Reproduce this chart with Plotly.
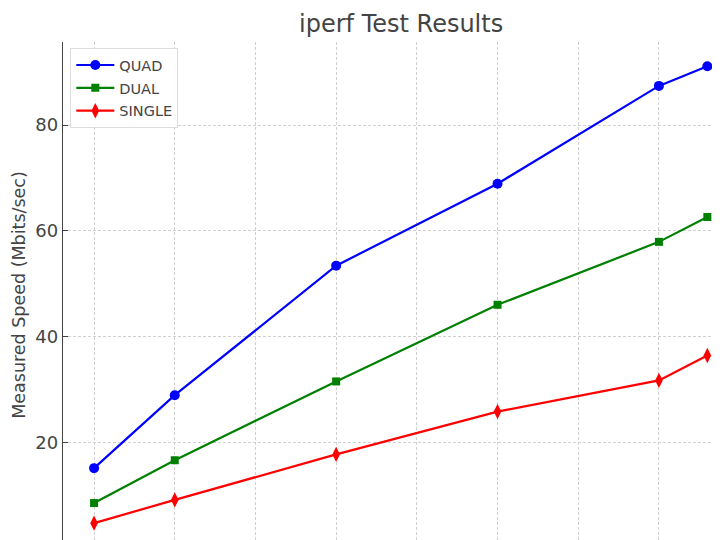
import plotly.graph_objects as go

x_vals = [1, 2, 4, 6, 8, 8.6]
quad = [15.1, 28.9, 53.4, 68.9, 87.4, 91.1]
dual = [8.5, 16.6, 31.5, 46.0, 57.9, 62.6]
single = [4.7, 9.1, 17.7, 25.8, 31.7, 36.4]
y_ticks = [20, 40, 60, 80]

fig = go.Figure()
fig.add_trace(go.Scatter(x=x_vals, y=quad, name="QUAD", mode="lines+markers",
                         legendgroup="a",
                         line=dict(color="blue", width=2.2),
                         marker=dict(symbol="circle", size=10, color="blue")))
fig.add_trace(go.Scatter(x=x_vals, y=dual, name="DUAL", mode="lines+markers",
                         legendgroup="b",
                         line=dict(color="green", width=2.2),
                         marker=dict(symbol="square", size=8, color="green")))
fig.add_trace(go.Scatter(x=x_vals, y=single, name="SINGLE", mode="lines+markers",
                         legendgroup="c",
                         line=dict(color="red", width=2.2),
                         marker=dict(symbol="diamond-tall", size=11, color="red")))

fig.update_layout(
    width=720, height=540,
    margin=dict(l=55, r=0, t=34, b=0, autoexpand=False),
    paper_bgcolor="white", plot_bgcolor="white",
    font=dict(family="DejaVu Sans", color="#444444"),
    title=dict(text="iperf Test Results", x=0.546, xanchor="center",
               y=1 - 16 / 540, yref="container", yanchor="middle",
               font=dict(size=24, color="#444444")),
    showlegend=True,
    legend=dict(x=0.011, y=0.988, xanchor="left", yanchor="top",
                bgcolor="rgba(255,255,255,0.9)", bordercolor="#dddddd", borderwidth=1,
                font=dict(size=14.5, color="#444444"), itemwidth=38,
                traceorder="grouped", tracegroupgap=1),
)
fig.update_xaxes(range=[0.615, 8.856], showticklabels=False, dtick=1, tick0=1,
                 showgrid=True, gridcolor="#d0d0d0", griddash="3px,2px", gridwidth=0.8,
                 zeroline=False, showline=False, automargin=False)
fig.update_yaxes(range=[0.0, 95.7], tickvals=y_ticks, showgrid=True,
                 gridcolor="#d0d0d0", griddash="3px,2px", gridwidth=0.8,
                 zeroline=False, showline=True, linecolor="#444444", linewidth=1.3,
                 ticks="inside", ticklen=5, tickcolor="#444444",
                 tickfont=dict(size=18, color="#444444"), automargin=False,
                 title=dict(text="Measured Speed (Mbits/sec)", font=dict(size=17.5, color="#444444"),
                            standoff=5))

fig.write_html("out.html")
